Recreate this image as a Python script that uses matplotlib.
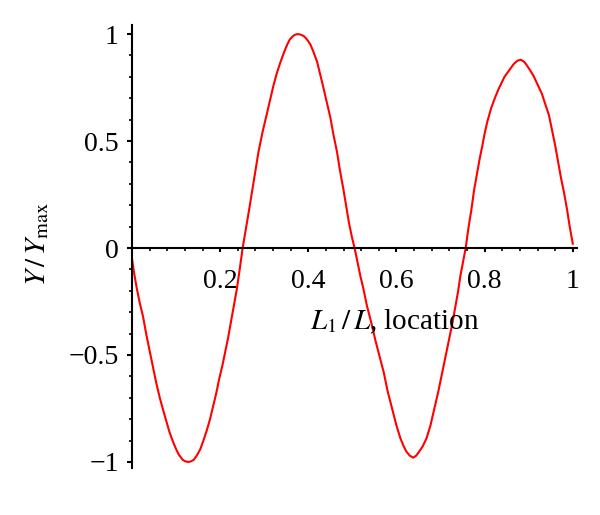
import numpy as np
import matplotlib
matplotlib.use('Agg')
import matplotlib.pyplot as plt
from matplotlib.ticker import MultipleLocator

matplotlib.rcParams['font.family'] = ['Liberation Serif', 'DejaVu Serif']
matplotlib.rcParams['mathtext.fontset'] = 'stix'

# values (location, normalised deflection)
loc = [0.000, 0.005, 0.011, 0.018, 0.025, 0.033, 0.041, 0.048, 0.055, 0.063,
       0.071, 0.078, 0.085, 0.092, 0.100, 0.106, 0.115, 0.121, 0.128, 0.134,
       0.140, 0.147, 0.155, 0.162, 0.170, 0.177, 0.184, 0.191, 0.198, 0.205,
       0.211, 0.218, 0.225, 0.231, 0.238, 0.245, 0.251,
       0.258, 0.265, 0.276, 0.287, 0.296, 0.305, 0.313, 0.321, 0.329, 0.337,
       0.345, 0.352, 0.358, 0.365, 0.370, 0.376, 0.383, 0.390, 0.397, 0.405,
       0.412, 0.420, 0.426, 0.433, 0.441, 0.450, 0.457, 0.465, 0.472, 0.480,
       0.486, 0.492, 0.499, 0.505,
       0.512, 0.518, 0.526, 0.533, 0.543, 0.552, 0.562, 0.571, 0.580, 0.590,
       0.600, 0.609, 0.616, 0.622, 0.630, 0.638, 0.645, 0.652, 0.660, 0.668,
       0.677, 0.686, 0.695, 0.704, 0.711, 0.719, 0.727, 0.734, 0.740, 0.745,
       0.751, 0.757,
       0.763, 0.770, 0.776, 0.783, 0.789, 0.795, 0.800, 0.806, 0.815, 0.825,
       0.831, 0.838, 0.845, 0.852, 0.859, 0.866, 0.874, 0.882, 0.890, 0.897,
       0.905, 0.912, 0.921, 0.930, 0.938, 0.946, 0.953, 0.960, 0.966, 0.973,
       0.980, 0.987, 0.993, 1.000]
defl = [-0.05, -0.12, -0.19, -0.26, -0.32, -0.41, -0.49, -0.56, -0.63, -0.70,
        -0.76, -0.81, -0.86, -0.90, -0.94, -0.965, -0.99, -0.997, -1.00, -0.997,
        -0.99, -0.97, -0.94, -0.90, -0.85, -0.80, -0.74, -0.68, -0.61, -0.55,
        -0.49, -0.42, -0.34, -0.27, -0.19, -0.09, 0.00,
        0.085, 0.17, 0.31, 0.45, 0.54, 0.62, 0.69, 0.76, 0.82, 0.87,
        0.915, 0.95, 0.975, 0.99, 0.997, 1.00, 0.997, 0.99, 0.975, 0.95,
        0.915, 0.87, 0.82, 0.76, 0.69, 0.61, 0.53, 0.45, 0.36, 0.27,
        0.195, 0.12, 0.05, 0.00,
        -0.07, -0.13, -0.20, -0.27, -0.35, -0.43, -0.51, -0.58, -0.67, -0.75,
        -0.83, -0.89, -0.925, -0.95, -0.97, -0.98, -0.97, -0.95, -0.925, -0.89,
        -0.83, -0.75, -0.67, -0.58, -0.51, -0.43, -0.35, -0.27, -0.20, -0.13,
        -0.065, 0.00,
        0.09, 0.18, 0.27, 0.35, 0.42, 0.48, 0.535, 0.59, 0.655, 0.71,
        0.74, 0.77, 0.80, 0.82, 0.84, 0.86, 0.875, 0.88, 0.87, 0.85,
        0.825, 0.80, 0.76, 0.72, 0.67, 0.62, 0.55, 0.48, 0.41, 0.33,
        0.26, 0.18, 0.10, 0.02]

xticks = [0.2, 0.4, 0.6, 0.8, 1.0]
xticklabels = ['0.2', '0.4', '0.6', '0.8', '1']
yticks = [-1, -0.5, 0, 0.5, 1]
yticklabels = ['\u22121', '\u22120.5', '0', '0.5', '1']

fig = plt.figure(figsize=(6, 5.15), dpi=100)
ax = fig.add_axes([0.22, 0.0905, 0.742, 0.860])

ax.plot(loc, defl, color='red', lw=1.5, solid_joinstyle='round')

ax.set_xlim(0, 1.01)
ax.set_ylim(-1.03, 1.04)

ax.spines['top'].set_visible(False)
ax.spines['right'].set_visible(False)
ax.spines['left'].set_position(('data', 0))
ax.spines['bottom'].set_position(('data', 0))
ax.spines['left'].set_linewidth(1.5)
ax.spines['bottom'].set_linewidth(1.5)

ax.set_xticks(xticks)
ax.set_xticklabels(xticklabels)
ax.set_yticks(yticks)
ax.set_yticklabels(yticklabels)
ax.xaxis.set_minor_locator(MultipleLocator(0.04))
ax.yaxis.set_minor_locator(MultipleLocator(0.1))

ax.tick_params(axis='x', which='major', direction='out', length=3, width=1.5,
               pad=12, labelsize=20)
ax.tick_params(axis='y', which='major', direction='out', length=3.6, width=1.5,
               pad=6, labelsize=20)
ax.tick_params(which='minor', direction='out', length=2, width=1.2)

fig.text(0.063, 0.526, r'$Y\,/\,Y_{\max}$', rotation=90, ha='center', va='center',
         fontsize=21)
fig.text(0.658, 0.375, r'$L_1\,/\,L$, location', ha='center', va='center',
         fontsize=21)

plt.savefig('out.png', dpi=100)
